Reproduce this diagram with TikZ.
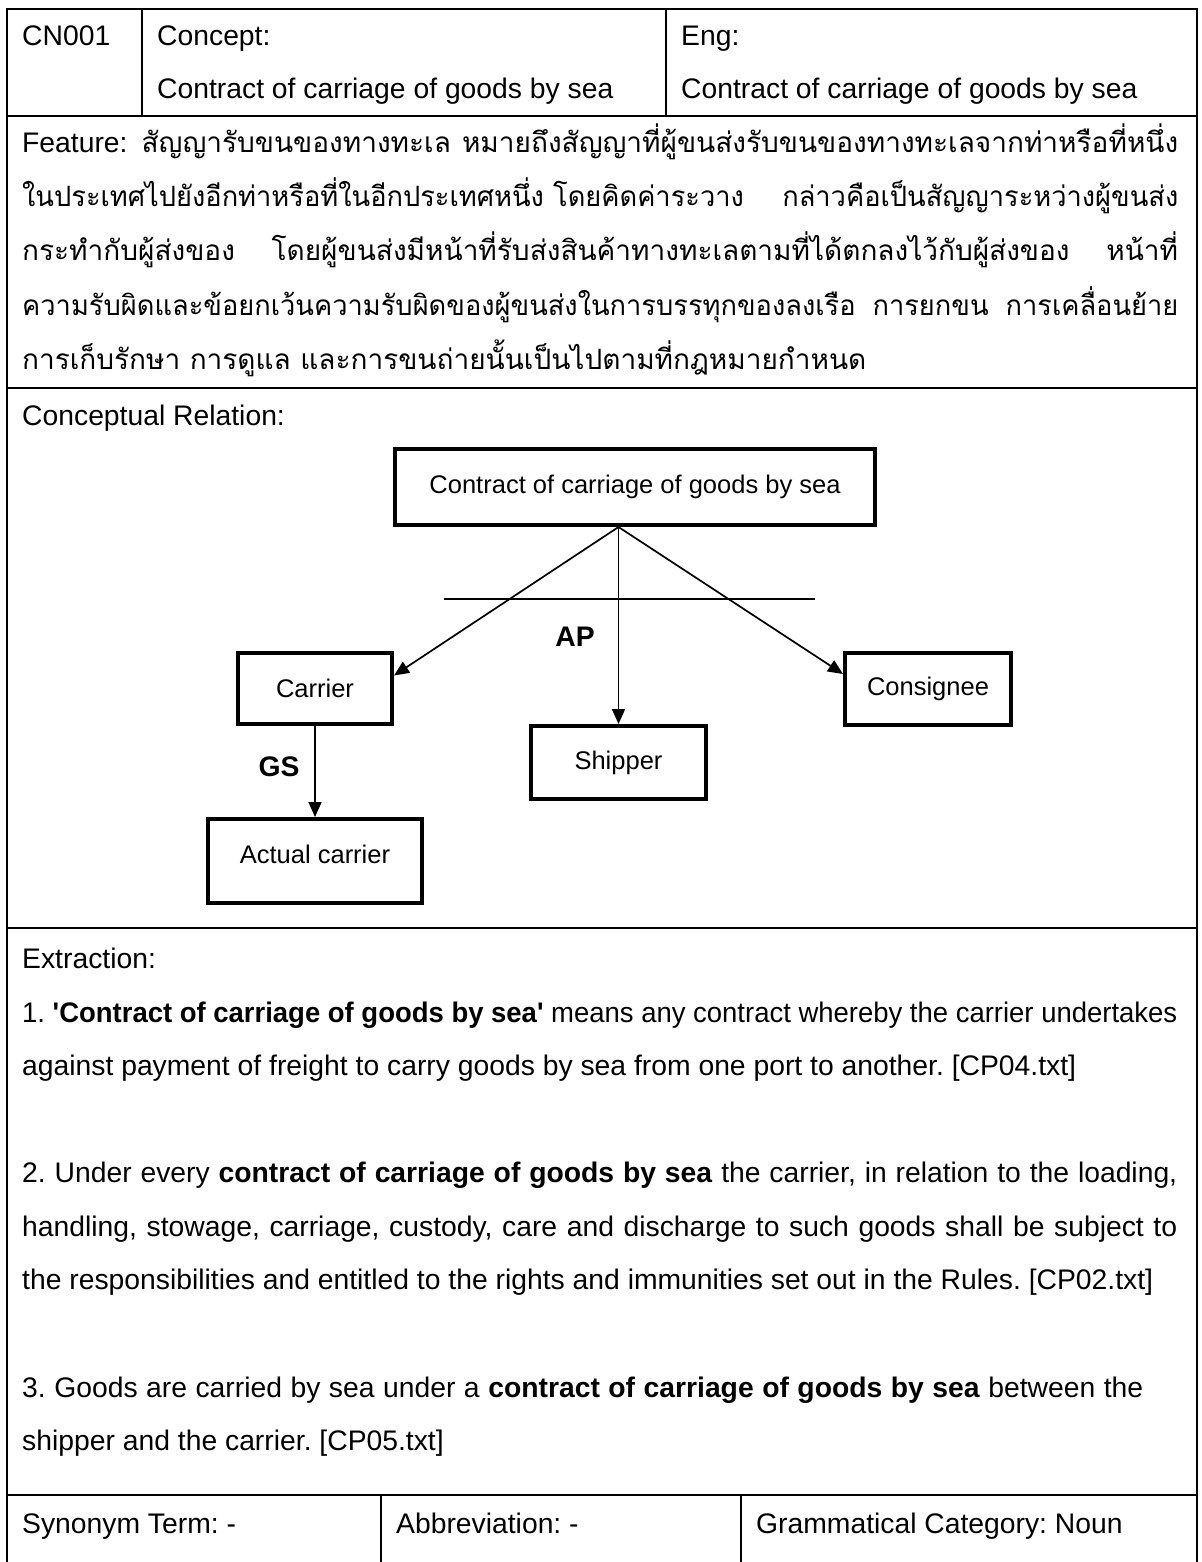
\documentclass[tikz,border=0pt]{standalone}
\usepackage{fontspec}
\usepackage{graphicx}
\setmainfont{Liberation Sans}
\newfontfamily\thaifont[Script=Thai]{Loma}
\usetikzlibrary{arrows.meta}

% one justified line: stretched to the given width, squeezed if too long
\newsavebox\fitbox
\newcommand\fitline[2]{\sbox\fitbox{#2}%
  \ifdim\wd\fitbox>#1\relax\resizebox{#1}{\ht\fitbox}{\usebox\fitbox}%
  \else\hbox to #1{#2}\fi}

\newcommand\tabfont{\fontsize{28.3}{33}\selectfont\frenchspacing}
\newcommand\boxfont{\fontsize{25.5}{30}\selectfont}
\newcommand\thaisize{\fontsize{28}{32}\selectfont}

\tikzset{
  rule/.style={line width=2.6pt},
  thin rule/.style={line width=2pt},
  cell/.style={anchor=base west, inner sep=0pt, font=\tabfont},
  concept/.style={draw, line width=4pt, inner sep=0pt, font=\boxfont, align=center},
  link/.style={line width=1.7pt, -{Triangle[length=15pt,width=13pt]}},
  rel/.style={font=\tabfont\bfseries, inner sep=0pt},
  bar/.style={line width=1.7pt}
}

\begin{document}
\begin{tikzpicture}[x=1pt,y=-1pt]
\useasboundingbox (0,0) rectangle (1201,1562);
\fill[white] (0,0) rectangle (1201,1562);

% table frame
\draw[rule] (7,1562) -- (7,9) -- (1197,9) -- (1197,1562);
\draw[rule] (7,116) -- (1197,116);
\draw[rule] (7,388) -- (1197,388);
\draw[rule] (7,928) -- (1197,928);
\draw[rule] (7,1495) -- (1197,1495);
\draw[thin rule] (142,9) -- (142,116);
\draw[thin rule] (666,9) -- (666,116);
\draw[thin rule] (381,1495) -- (381,1562);
\draw[thin rule] (741,1495) -- (741,1562);

% header
\node[cell] (id) at (22,46) {CN001};
\node[cell] (conceptlbl) at (157,46) {Concept:};
\node[cell] (concept) at (157,99) {Contract of carriage of goods by sea};
\node[cell] (englbl) at (681,46) {Eng:};
\node[cell] (eng) at (681,99) {Contract of carriage of goods by sea};

% feature
\node[cell] (feat1) at (22,153) {\fitline{1156pt}{Feature:\hspace{14pt}{\thaifont\thaisize สัญญารับขนของทางทะเล หมายถึงสัญญาที่ผู้ขนส่งรับขนของทางทะเลจากท่าหรือที่หนึ่ง}}};
\node[cell] (feat2) at (22,207) {\thaifont\thaisize\fitline{1156pt}{ในประเทศไปยังอีกท่าหรือที่ในอีกประเทศหนึ่ง โดยคิดค่าระวาง\hspace{30pt} กล่าวคือเป็นสัญญาระหว่างผู้ขนส่ง}};
\node[cell] (feat3) at (22,261) {\thaifont\thaisize\fitline{1156pt}{กระทำกับผู้ส่งของ\hspace{8pt} โดยผู้ขนส่งมีหน้าที่รับส่งสินค้าทางทะเลตามที่ได้ตกลงไว้กับผู้ส่งของ\hspace{8pt} หน้าที่}};
\node[cell] (feat4) at (22,315) {\thaifont\thaisize\fitline{1156pt}{ความรับผิดและข้อยกเว้นความรับผิดของผู้ขนส่งในการบรรทุกของลงเรือ\hspace{8pt} การยกขน\hspace{8pt} การเคลื่อนย้าย}};
\node[cell] (feat5) at (22,369) {\thaifont\thaisize การเก็บรักษา การดูแล และการขนถ่ายนั้นเป็นไปตามที่กฎหมายกำหนด};

% conceptual relation
\node[cell] (crlbl) at (22,425) {Conceptual Relation:};
\node[concept, minimum width=480pt, minimum height=76pt] (top) at (635,487) {Contract of carriage of goods by sea};
\node[concept, minimum width=154pt, minimum height=71pt] (carrier) at (315,688.5) {Carrier};
\node[concept, minimum width=175pt, minimum height=73pt] (shipper) at (618.5,762.5) {Shipper};
\node[concept, minimum width=166pt, minimum height=72pt] (consignee) at (928,689) {Consignee};
\node[concept, minimum width=214pt, minimum height=84pt, text height=20pt, text depth=16pt] (actual) at (315,861) {Actual carrier};

\coordinate (apex) at (shipper.north |- top.south);
\draw[link] (apex) -- ([yshift=13pt]carrier.east);
\draw[link] (apex) -- (shipper.north);
\draw[link] (apex) -- ([yshift=15pt]consignee.west);
\draw[link] (carrier.south) -- (actual.north);

\coordinate (barL) at (444,599);
\coordinate (barR) at (815,599);
\draw[bar] (barL) -- (barR);

\node[rel] (ap) at (575,637) {AP};
\node[rel] (gs) at (279,767) {GS};

% extraction
\node[cell] (exlbl) at (22,968) {Extraction:};
\node[cell] (ex1a) at (22,1022) {\fitline{1155pt}{1. \textbf{\textquotesingle Contract of carriage of goods by sea\textquotesingle} means any contract whereby the carrier undertakes}};
\node[cell] (ex1b) at (22,1075.5) {against payment of freight to carry goods by sea from one port to another. [CP04.txt]};
\node[cell] (ex2a) at (22,1182.5) {\fitline{1155pt}{2. Under every \textbf{contract of carriage of goods by sea} the carrier, in relation to the loading,}};
\node[cell] (ex2b) at (22,1236) {\fitline{1155pt}{handling, stowage, carriage, custody, care and discharge to such goods shall be subject to}};
\node[cell] (ex2c) at (22,1289.5) {the responsibilities and entitled to the rights and immunities set out in the Rules. [CP02.txt]};
\node[cell] (ex3a) at (22,1397) {\fitline{1121pt}{3. Goods are carried by sea under a \textbf{contract of carriage of goods by sea} between the}};
\node[cell] (ex3b) at (22,1450.5) {shipper and the carrier. [CP05.txt]};

% bottom row
\node[cell] (syn) at (22,1533) {Synonym Term: -};
\node[cell] (abbr) at (396,1533) {Abbreviation: -};
\node[cell] (gram) at (756,1533) {Grammatical Category: Noun};
\end{tikzpicture}
\end{document}
